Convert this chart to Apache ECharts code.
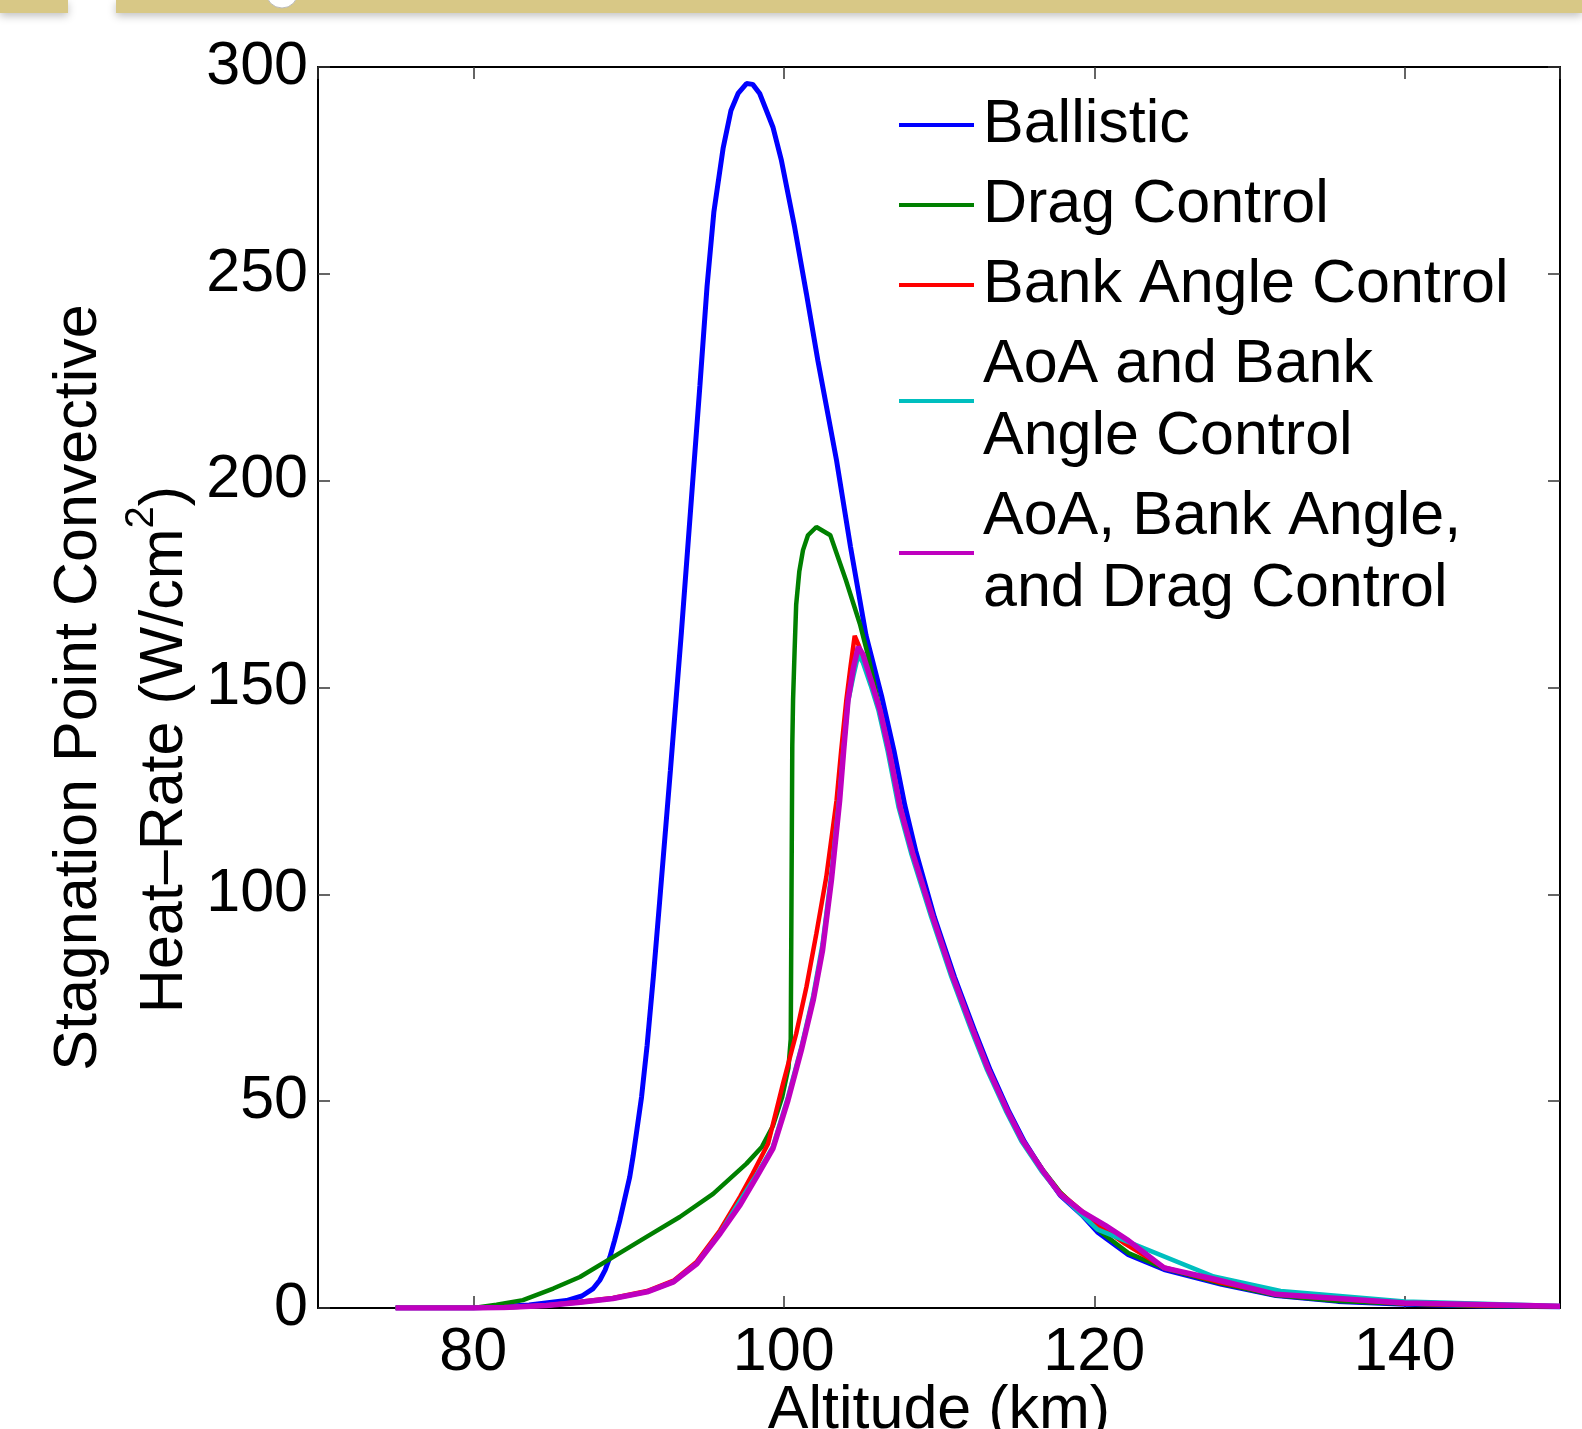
<!DOCTYPE html>
<html>
<head>
<meta charset="utf-8">
<script src="https://cdn.jsdelivr.net/npm/echarts@6/dist/echarts.min.js"></script>
<style>
  html, body { margin: 0; padding: 0; background: #ffffff; }
  #chart { width: 1582px; height: 1429px; }
</style>
</head>
<body>
<div id="chart"></div>
<script>
// altitude (km) / heat-rate (W/cm^2)
var ballisticAlt = [75, 80, 83.6, 86.0, 87.0, 87.7, 88.15, 88.5, 88.8, 89.1, 89.44, 89.75, 90.08, 90.3, 90.5, 90.84, 91.2, 91.6, 92.0, 92.7, 93.4, 94.06, 94.6, 95.06, 95.5, 96.1, 96.6, 97.06, 97.6, 98.0, 98.45, 99.3, 99.85, 100.7, 101.46, 102.2, 103.4, 104.3, 105.3, 106.3, 107.1, 107.8, 108.5, 109.7, 111.0, 112.3, 113.3, 114.5, 115.5, 116.7, 117.8, 119.2, 120.2, 122.2, 124.5, 128.2, 131.7, 135.7, 140, 145, 150];
var ballisticQ = [0, 0, 0.7, 1.8, 2.9, 4.6, 6.7, 9.2, 12.3, 16.3, 21.2, 26.3, 31.7, 36.8, 42, 51, 63.5, 80, 98, 130, 163, 196, 223, 247, 265, 280.5, 289.5, 293.6, 296, 295.8, 293.6, 285.5, 277.4, 261.3, 245.2, 229, 204.9, 184, 162.6, 148, 134.7, 121.5, 110.5, 94.5, 80, 67, 57.5, 47.5, 40.2, 33.1, 27.3, 22.5, 18.4, 12.9, 9.3, 5.7, 3.0, 1.6, 0.9, 0.5, 0.3];

var dragAlt = [75, 80, 81.5, 83.2, 85.15, 86.87, 89.0, 91.16, 93.3, 95.45, 97.6, 98.6, 99.3, 99.9, 100.3, 100.45, 100.5, 100.55, 100.6, 100.7, 100.8, 101.0, 101.24, 101.56, 102.1, 103.0, 104.0, 104.9, 105.4, 106.2, 106.8, 107.5, 108.3, 109.6, 110.9, 112.2, 113.2, 114.4, 115.4, 116.7, 117.8, 119.2, 120.2, 122.2, 124.5, 128.2, 131.7, 135.7, 140, 145, 150];
var dragQ = [0, 0, 0.8, 1.9, 4.7, 7.5, 12.3, 17.2, 22, 27.6, 34.9, 39, 44, 51, 58, 65, 100, 136, 147, 159, 170, 178, 183.2, 186.8, 188.8, 186.8, 176, 165.4, 158.2, 144.5, 134.5, 121, 110, 94.5, 80, 67, 57.5, 47.7, 40.4, 33.3, 28, 23, 19, 13.3, 9.6, 5.9, 3.1, 1.7, 1.0, 0.5, 0.3];

var bankAlt = [75, 80, 82, 84.7, 86.9, 89.0, 91.2, 92.9, 94.4, 95.9, 97.2, 98.0, 98.99, 99.95, 100.8, 101.46, 102.1, 102.74, 103.4, 103.7, 104.03, 104.3, 104.57, 104.85, 105.2, 105.7, 106.2, 106.8, 107.5, 108.3, 109.6, 110.9, 112.2, 113.2, 114.4, 115.4, 116.7, 117.8, 119.5, 120.5, 122, 124.5, 128, 132, 140, 145, 150];
var bankQ = [0, 0, 0.1, 0.6, 1.5, 2.4, 4.1, 6.6, 11.2, 18.8, 27, 32.5, 39.7, 54.2, 66.3, 77.6, 90.5, 104.2, 122.7, 134.8, 146.9, 155, 162.5, 160, 156, 151, 144.5, 134.5, 121, 110, 94.5, 80, 67, 57.5, 47.7, 40.4, 33.1, 27.8, 22.5, 19.5, 15.5, 9.8, 6.3, 3.2, 1.1, 0.6, 0.4];

var aoaBankAlt = [75, 80, 82, 84.7, 86.9, 89.0, 91.2, 92.9, 94.4, 95.9, 97.2, 98.3, 99.3, 100.27, 101.13, 101.9, 102.5, 103.07, 103.6, 103.86, 104.14, 104.5, 104.8, 105.1, 105.6, 106.1, 106.7, 107.4, 108.2, 109.5, 110.8, 112.1, 113.1, 114.3, 115.3, 116.6, 117.8, 120.2, 127.7, 132, 140, 150];
var aoaBankQ = [0, 0, 0.1, 0.6, 1.4, 2.3, 3.9, 6.3, 10.8, 18.2, 26, 32.5, 39, 51, 63, 75.5, 88, 105, 124, 135.5, 146.5, 153, 157.8, 156, 150.5, 144.5, 134.5, 121, 110, 94.5, 80, 67, 57.5, 47.7, 40.4, 33.1, 27.5, 19.0, 7.6, 4.1, 1.6, 0.5];

var aoaBankDragAlt = [75, 80, 82, 84.7, 86.9, 89.0, 91.2, 92.9, 94.4, 95.9, 97.2, 98.3, 99.3, 100.27, 101.13, 101.9, 102.5, 103.07, 103.6, 103.86, 104.14, 104.5, 104.8, 105.1, 105.6, 106.2, 106.8, 107.5, 108.3, 109.6, 110.9, 112.2, 113.2, 114.4, 115.4, 116.7, 117.8, 119.2, 120.7, 122.2, 124.5, 127.7, 131.7, 140, 150];
var aoaBankDragQ = [0, 0, 0.1, 0.6, 1.4, 2.3, 3.9, 6.3, 10.7, 18, 25, 32, 38.5, 50.2, 62.3, 74.4, 86.5, 103.4, 122.7, 134.8, 146.9, 155, 159.8, 158, 152, 144.5, 134.5, 121, 110, 94.5, 80, 67, 57.5, 47.7, 40.4, 33.1, 27.5, 23.3, 20.0, 16.3, 9.7, 7.0, 3.3, 1.2, 0.4];

var seriesNames = ['Ballistic', 'Drag Control', 'Bank Angle Control', 'AoA and Bank\nAngle Control', 'AoA, Bank Angle,\nand Drag Control'];
var seriesColors = ['#0000ff', '#008000', '#ff0000', '#00bfbf', '#bf00bf'];
var seriesWidths = [5, 4.5, 4.5, 4.5, 5.5];
var altList = [ballisticAlt, dragAlt, bankAlt, aoaBankAlt, aoaBankDragAlt];
var qList = [ballisticQ, dragQ, bankQ, aoaBankQ, aoaBankDragQ];

var FONT = '"Liberation Sans", Arial, Helvetica, sans-serif';
var FS = 61;

function pairs(xs, ys) {
    var out = [];
    for (var i = 0; i < xs.length; i++) out.push([xs[i], ys[i]]);
    return out;
}

var chart = echarts.init(document.getElementById('chart'), null, { renderer: 'canvas' });

var series = [];
for (var k = 0; k < seriesNames.length; k++) {
    series.push({
        name: seriesNames[k],
        type: 'line',
        xAxisIndex: 0,
        yAxisIndex: 0,
        data: pairs(altList[k], qList[k]),
        showSymbol: false,
        symbol: 'none',
        smooth: false,
        lineStyle: { color: seriesColors[k], width: seriesWidths[k] },
        itemStyle: { color: seriesColors[k] }
    });
}

var frameLine = { show: true, onZero: false, lineStyle: { color: '#000', width: 2 } };
var innerTick = { show: true, inside: true, length: 12, lineStyle: { color: '#333', width: 1.5 } };

var option = {
    animation: false,
    backgroundColor: '#ffffff',
    grid: { left: 318, right: 22, top: 67, bottom: 121, containLabel: false, outerBoundsMode: 'none' },
    legend: {
        orient: 'vertical',
        left: 899,
        top: 89,
        padding: 0,
        itemGap: 8,
        itemWidth: 75,
        itemHeight: 4,
        icon: 'rect',
        selectedMode: false,
        data: seriesNames,
        textStyle: {
            fontFamily: FONT,
            fontSize: FS,
            lineHeight: 72,
            color: '#000',
            padding: [0, 0, 0, 4]
        }
    },
    xAxis: [{
        type: 'value',
        min: 70,
        max: 150,
        splitNumber: 4,
        position: 'bottom',
        name: 'Altitude (km)',
        nameLocation: 'middle',
        nameGap: 73,
        nameMoveOverlap: false,
        nameTextStyle: { fontFamily: FONT, fontSize: FS, color: '#000' },
        axisLine: frameLine,
        axisTick: innerTick,
        splitLine: { show: false },
        axisLabel: {
            fontFamily: FONT, fontSize: FS, color: '#000', margin: 15,
            showMinLabel: false, showMaxLabel: false,
            formatter: function (v) { return v % 20 === 0 ? String(v) : ''; }
        }
    }, {
        type: 'value',
        min: 70,
        max: 150,
        splitNumber: 4,
        position: 'top',
        axisLine: frameLine,
        axisTick: innerTick,
        splitLine: { show: false },
        axisLabel: { show: false }
    }],
    yAxis: [{
        type: 'value',
        min: 0,
        max: 300,
        interval: 50,
        position: 'left',
        name: '{a|Stagnation Point Convective}\n{a|Heat\u2013Rate (W/cm}{s|2}{b|)}',
        nameLocation: 'middle',
        nameGap: 110,
        nameMoveOverlap: false,
        nameRotate: 90,
        nameTextStyle: {
            fontFamily: FONT, fontSize: FS, color: '#000', lineHeight: 86,
            rich: {
                a: { fontFamily: FONT, fontSize: FS, lineHeight: 86, color: '#000' },
                s: { fontFamily: FONT, fontSize: 40, lineHeight: 40, color: '#000', verticalAlign: 'top' },
                b: { fontFamily: FONT, fontSize: FS, lineHeight: 86, color: '#000', padding: [0, 124, 0, 0] }
            }
        },
        axisLine: frameLine,
        axisTick: innerTick,
        splitLine: { show: false },
        axisLabel: { fontFamily: FONT, fontSize: FS, color: '#000', margin: 10 }
    }, {
        type: 'value',
        min: 0,
        max: 300,
        interval: 50,
        position: 'right',
        axisLine: frameLine,
        axisTick: innerTick,
        splitLine: { show: false },
        axisLabel: { show: false }
    }],
    graphic: [
        { type: 'rect', left: 0, top: 0, shape: { width: 68, height: 13 },
          style: { fill: '#d8c886', shadowBlur: 8, shadowColor: 'rgba(0,0,0,0.25)', shadowOffsetY: 3 } },
        { type: 'rect', left: 116, top: 0, shape: { width: 1466, height: 13 },
          style: { fill: '#d8c886', shadowBlur: 8, shadowColor: 'rgba(0,0,0,0.25)', shadowOffsetY: 3 } },
        { type: 'circle', shape: { cx: 282, cy: -8, r: 16 },
          style: { fill: '#ffffff', stroke: '#bbbbbb', lineWidth: 1 } }
    ],
    series: series
};

chart.setOption(option);
</script>
</body>
</html>
